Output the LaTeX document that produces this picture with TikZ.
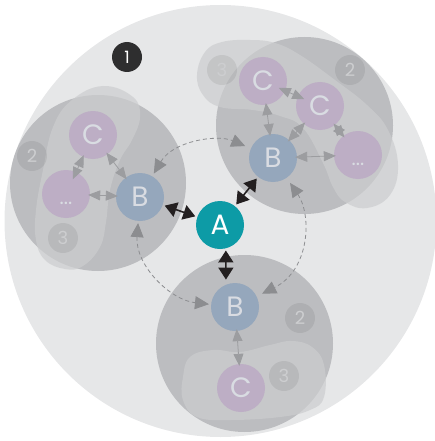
\documentclass[tikz,border=0pt]{standalone}
\usepackage{fontspec}
\setmainfont{Poppins}
\usetikzlibrary{arrows.meta}
\definecolor{outerc}{HTML}{E6E7E8}
\definecolor{clusc}{HTML}{BCBDC0}
\definecolor{blobc}{HTML}{CCCDCF}
\definecolor{bcol}{HTML}{95A7BC}
\definecolor{ccol}{HTML}{BDAEC5}
\definecolor{acol}{HTML}{0D9BA6}
\definecolor{ntext}{HTML}{D9DCE2}
\definecolor{ltext}{HTML}{CDCED0}
\definecolor{garrow}{HTML}{9C9DA0}
\definecolor{darr}{HTML}{231F20}
\definecolor{dashc}{HTML}{8C8D90}
\definecolor{onec}{HTML}{2E2E2F}
\begin{document}
\begin{tikzpicture}[x=1pt,y=-1pt,
  bnode/.style={circle, fill=bcol, minimum size=48pt, inner sep=0pt, text=ntext, font=\fontsize{28}{28}\selectfont},
  cnode/.style={circle, fill=ccol, minimum size=48pt, inner sep=0pt, text=ntext, font=\fontsize{28}{28}\selectfont},
  dnode/.style={circle, fill=ccol, minimum size=48pt, inner sep=0pt, text=ntext, font=\fontsize{20}{20}\selectfont, text height=0pt, text depth=0pt},
  anode/.style={circle, fill=acol, minimum size=48pt, inner sep=0pt, text=white, font=\fontsize{28}{28}\selectfont},
  lbl/.style={circle, fill=black, fill opacity=0.07, text opacity=1, text=ltext, minimum size=30pt, inner sep=0pt, font=\fontsize{18}{18}\selectfont},
  onelbl/.style={circle, fill=onec, text=white, minimum size=30pt, inner sep=0pt, font=\fontsize{17}{17}\selectfont},
  blob/.style={fill=blobc, fill opacity=0.7},
  garr/.style={{Triangle[length=12pt,width=10pt]}-{Triangle[length=12pt,width=10pt]}, draw=garrow, line width=0.8pt, shorten <=-2pt, shorten >=-2pt},
  barr/.style={{Triangle[length=12pt,width=15pt]}-{Triangle[length=12pt,width=15pt]}, draw=darr, line width=1.6pt, shorten <=2pt, shorten >=2pt},
  darc/.style={{Triangle[length=14pt,width=13pt]}-{Triangle[length=14pt,width=13pt]}, draw=dashc, dash pattern=on 4pt off 3pt, line width=0.8pt}
]
\useasboundingbox (0,0) rectangle (435,441);
% outer circle
\fill[outerc] (220.5,221) circle[radius=216];
% cluster circles
\fill[clusc] (98,183) circle[radius=88];
\fill[clusc] (304.5,125.5) circle[radius=88.5];
\fill[clusc] (244.5,343.5) circle[radius=88.5];
% blobs
\fill[blob] plot[smooth cycle, tension=0.7] coordinates {(72,100) (103,86) (133,97) (140,117) (132,140) (120,160) (110,190) (106,222) (100,247) (83,266) (65,269) (45,260) (36,240) (36,210) (43,170) (53,127)};
\fill[blob] plot[smooth cycle, tension=0.7] coordinates {(197,75) (205,52) (222,42) (250,40) (275,43) (300,55) (335,80) (367,105) (388,130) (398,165) (390,195) (367,208) (345,202) (333,187) (323,163) (303,128) (280,116) (253,110) (220,107) (203,95)};
\fill[blob] plot[smooth cycle, tension=0.7] coordinates {(190,357) (213,350) (240,352) (270,345) (292,341) (312,347) (324,365) (324,397) (310,410) (280,417) (230,420) (197,417) (183,400) (183,377)};
% labels
\node[onelbl] (one) at (127,57) {1};
\node[lbl] (L2) at (32,156) {2};
\node[lbl] (L3) at (63,238) {3};
\node[lbl] (T2) at (350,70) {2};
\node[lbl] (T3) at (222,70) {3};
\node[lbl] (B2) at (300,318) {2};
\node[lbl] (B3) at (284,376) {3};
% nodes
\node[anode] (A) at (220,225) {A};
\node[bnode] (BL) at (140,197) {B};
\node[cnode] (CL) at (93,135) {C};
\node[dnode] (DL) at (66,194) {\raisebox{-10pt}{...}};
\node[bnode] (BT) at (273,158) {B};
\node[cnode] (C1) at (263,81) {C};
\node[cnode] (C2) at (320,106) {C};
\node[dnode] (DT) at (358,155) {\raisebox{-10pt}{...}};
\node[bnode] (BB) at (235,307) {B};
\node[cnode] (CB) at (241,388) {C};
% dashed arcs
\draw[darc, shorten <=3pt, shorten >=6pt] (BL) .. controls (173,141) and (217,134) .. (BT);
\draw[darc, shorten <=6pt, shorten >=6pt] (BT) .. controls (312,215) and (310,270) .. (BB);
\draw[darc, shorten <=2pt, shorten >=2pt] (BL) .. controls (135,265) and (170,300) .. (BB);
% black arrows
\draw[barr] (A) -- (BL);
\draw[barr] (A) -- (BT);
\draw[barr, shorten >=5pt] (A.-76) -- (BB.112);
% gray arrows
\draw[garr, shorten >=-8pt] (CL) -- (DL);
\draw[garr] (CL) -- (BL);
\draw[garr] (DL) -- (BL);
\draw[garr, shorten <=-7pt, shorten >=-7pt] (C1) -- (C2);
\draw[garr] (C1) -- (BT);
\draw[garr] (C2) -- (BT);
\draw[garr] (C2) -- (DT);
\draw[garr] (BT) -- (DT);
\draw[garr] (BB) -- (CB);
\end{tikzpicture}
\end{document}
